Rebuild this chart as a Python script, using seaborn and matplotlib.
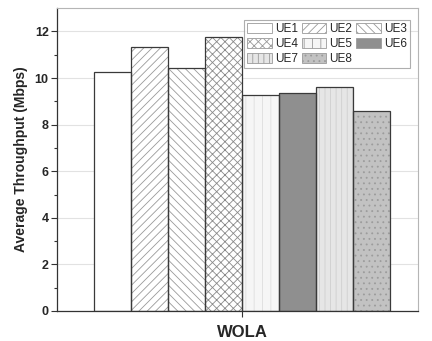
import matplotlib
matplotlib.use("Agg")
import matplotlib.pyplot as plt
from matplotlib.patches import Rectangle
import seaborn as sns
import pandas as pd

# Average throughput per user equipment under the WOLA waveform
schemes = ["WOLA"] * 8
users = ["UE1", "UE2", "UE3", "UE4", "UE5", "UE6", "UE7", "UE8"]
throughput = [10.27, 11.33, 10.43, 11.77, 9.26, 9.38, 9.60, 8.58]
y_ticks = [0, 2, 4, 6, 8, 10, 12]

# Fill styles for each user: face colour, hatch, hatch colour
faces = ["#ffffff", "#ffffff", "#ffffff", "#ffffff",
         "#f6f6f6", "#8f8f8f", "#e6e6e6", "#c2c2c2"]
hatches = ["", "////", "\\\\\\\\", "xxxx", "||", "", "|||", "..."]
hatch_cols = ["#ffffff", "#9a9a9a", "#9a9a9a", "#8a8a8a",
              "#dedede", "#8f8f8f", "#cfcfcf", "#9c9c9c"]

df = pd.DataFrame({"scheme": schemes, "ue": users, "throughput": throughput})

sns.set_style("white")
plt.rcParams["font.family"] = ["Liberation Sans", "DejaVu Sans"]
plt.rcParams["hatch.linewidth"] = 0.6

fig = plt.figure(figsize=(4.32, 3.41), dpi=100)
ax = fig.add_axes([0.132, 0.088, 0.836, 0.888])

sns.barplot(data=df, x="scheme", y="throughput", hue="ue",
            palette=faces, saturation=1, width=0.8, legend=False, ax=ax,
            zorder=2)

for cont, hatch, hc in zip(ax.containers, hatches, hatch_cols):
    for p in cont.patches:
        p.set_hatch(hatch)
        p.set_edgecolor(hc)
        p.set_linewidth(0)
        ax.add_patch(Rectangle(p.get_xy(), p.get_width(), p.get_height(),
                               fill=False, edgecolor="#3a3a3a", lw=0.9,
                               zorder=3))

ax.set_xlim(-0.5, 0.476)
ax.set_ylim(0, 13)
ax.set_yticks(y_ticks)
ax.set_yticks(range(1, 13, 2), minor=True)
ax.set_yticklabels([str(t) for t in y_ticks], fontsize=9, fontweight="bold")
ax.set_xticks([0])
ax.set_xticklabels(["WOLA"], fontsize=12, fontweight="bold")
ax.set_xlabel("")
ax.set_ylabel("Average Throughput (Mbps)", fontsize=10, fontweight="bold",
              labelpad=5)

ax.yaxis.grid(True, color="#e2e2e2", lw=0.8, zorder=0)
ax.set_axisbelow(True)
ax.tick_params(axis="y", which="major", direction="out", length=4,
               width=0.8, color="#333333", left=True, pad=2)
ax.tick_params(axis="y", which="minor", direction="out", length=2,
               width=0.8, color="#333333", left=True)
ax.tick_params(axis="x", which="major", direction="out", length=4,
               width=0.8, color="#333333", bottom=True, pad=6)

for side in ["left", "bottom"]:
    ax.spines[side].set_color("#333333")
    ax.spines[side].set_linewidth(0.9)
for side in ["top", "right"]:
    ax.spines[side].set_color("#b5b5b5")
    ax.spines[side].set_linewidth(0.8)

# Legend laid out row by row across three columns
handles = [c.patches[0] for c in ax.containers]
ncol = 3
order = [i for c in range(ncol) for i in range(c, len(users), ncol)]
leg = ax.legend([handles[i] for i in order], [users[i] for i in order],
                ncol=ncol, loc="upper right",
                bbox_to_anchor=(0.978, 0.962), fontsize=8.5,
                frameon=True, fancybox=False, edgecolor="#9a9a9a",
                handlelength=2.1, handleheight=0.95, handletextpad=0.25,
                columnspacing=0.3, labelspacing=0.22, borderpad=0.3,
                borderaxespad=0)
leg.get_frame().set_linewidth(0.8)
for h in leg.legend_handles:
    h.set_edgecolor("#9a9a9a")
    h.set_linewidth(0.6)

fig.savefig("out.png", dpi=100)
